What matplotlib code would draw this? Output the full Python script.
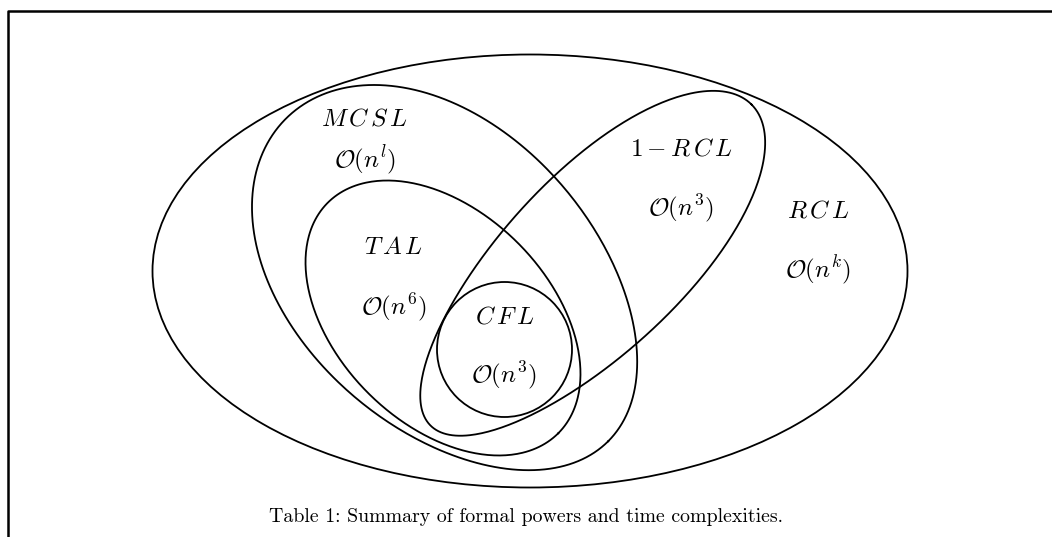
import matplotlib.pyplot as plt
import numpy as np
from matplotlib.patches import Ellipse, Circle

plt.rcParams['mathtext.fontset'] = 'cm'

# регионы классов языков (координаты страницы в пикселях, y вниз)
# centre x, centre y, semi-major, semi-minor, angle (deg), egg factor
mcsl_shape = (447, 280, 228, 149, 45, -0.05)
tal_shape = (443, 318, 163, 106, 45, 0.0)
rcl1_shape = (591, 265, 227, 89, -45, 0.08)
rcl_ellipse = (530, 271, 755, 433)   # centre x, centre y, width, height
cfl_circle = (504.5, 349.5, 67.5)    # centre x, centre y, radius

labels = ['$M\\,C\\,S\\,L$', '$\\mathcal{O}(n^l)$', '$T\\,A\\,L$', '$\\mathcal{O}(n^6)$',
          '$C\\,F\\,L$', '$\\mathcal{O}(n^3)$', '$1-R\\,C\\,L$', '$\\mathcal{O}(n^3)$',
          '$R\\,C\\,L$', '$\\mathcal{O}(n^k)$']
label_xy = [(364, 118), (365, 160), (393, 247), (394, 307), (505, 316), (504, 375),
            (681, 148), (681, 208), (818, 210), (818, 270)]
caption = 'Table 1: Summary of formal powers and time complexities.'


def egg(cx, cy, a, b, ang, k, n=400):
    # эллипс, сжатый к одному концу большой оси
    t = np.linspace(0, 2 * np.pi, n)
    u = a * np.cos(t)
    v = b * np.sin(t) * (1 + k * np.cos(t))
    th = np.radians(ang)
    x = cx + u * np.cos(th) - v * np.sin(th)
    y = cy + u * np.sin(th) + v * np.cos(th)
    return x, y


fig = plt.figure(figsize=(10.52, 5.37), dpi=100)
ax = fig.add_axes([0, 0, 1, 1])
ax.set_xlim(0, 1052)
ax.set_ylim(537, 0)
ax.axis('off')

lw = 1.3
# рамка
ax.plot([8, 8, 1052], [537, 11, 11], color='black', lw=1.8, solid_capstyle='butt')

cx, cy, w, h = rcl_ellipse
ax.add_patch(Ellipse((cx, cy), w, h, fill=False, color='black', lw=lw))
ax.add_patch(Circle(cfl_circle[:2], cfl_circle[2], fill=False, color='black', lw=lw))
for shp in [mcsl_shape, tal_shape, rcl1_shape]:
    x, y = egg(*shp)
    ax.plot(x, y, color='black', lw=lw)

for s, (x, y) in zip(labels, label_xy):
    ax.text(x, y, s, fontsize=18, ha='center', va='center')

ax.text(526, 517, caption, fontsize=14.3, ha='center', va='center', family='cmr10')

fig.savefig('out.png', dpi=100)
